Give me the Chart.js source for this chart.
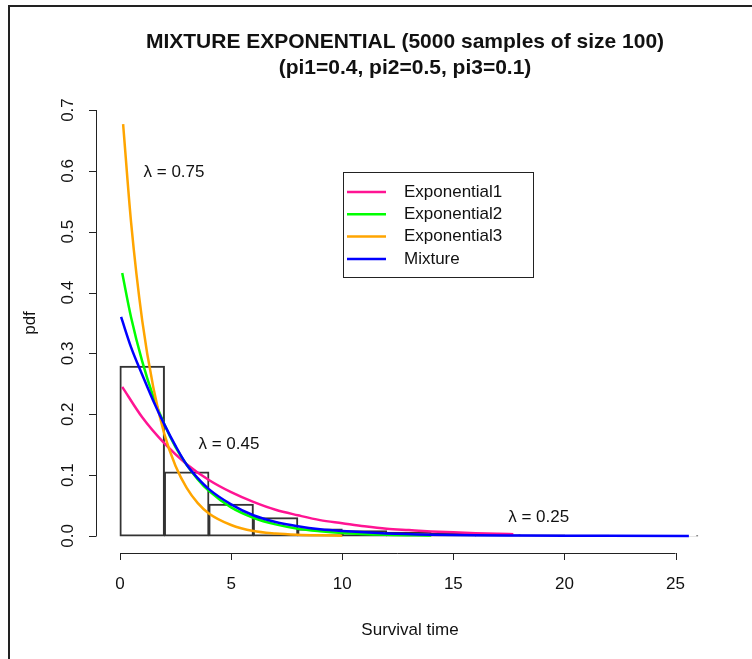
<!DOCTYPE html>
<html>
<head>
<meta charset="utf-8">
<script src="https://cdn.jsdelivr.net/npm/chart.js@4.4.1/dist/chart.umd.min.js"></script>
<style>
  body { margin: 0; background: #fff; }
  #frame { position: absolute; left: 8px; top: 5px; width: 760px; height: 700px;
           border-top: 2px solid #222; border-left: 2px solid #222; }
  #myChart { position: absolute; left: 0; top: 0; }
</style>
</head>
<body>
<div id="frame"></div>
<canvas id="myChart" width="752" height="659"></canvas>
<script>
// histogram (bin centers, density)
const binMids = [1, 3, 5, 7, 9, 11, 13, 15, 17, 19, 21, 23, 25];
const binDens = [0.279, 0.105, 0.052, 0.030, 0.0115, 0.0087, 0.006, 0.004, 0.002, 0.0015, 0.001, 0.0005, 0.0003];

// curves
const exp1X = [0.1, 1, 2, 3, 4, 5, 6, 7, 8, 9, 10, 11, 12, 13, 14, 15, 16, 17, 17.7];
const exp1Y = [0.245, 0.195, 0.152, 0.118, 0.092, 0.072, 0.056, 0.043, 0.034, 0.026, 0.021, 0.016, 0.012, 0.0097, 0.0075, 0.0059, 0.0046, 0.0036, 0.003];

const exp2X = [0.1, 0.5, 1, 1.5, 2, 2.5, 3, 3.5, 4, 5, 6, 7, 8, 9, 10, 12, 14];
const exp2Y = [0.432, 0.359, 0.287, 0.229, 0.183, 0.146, 0.117, 0.093, 0.074, 0.047, 0.030, 0.019, 0.012, 0.0079, 0.005, 0.002, 0.0008];

const exp3X = [0.14, 0.5, 1, 1.5, 2, 2.5, 3, 3.5, 4, 5, 6, 7, 8, 9, 10];
const exp3Y = [0.677, 0.515, 0.354, 0.244, 0.167, 0.115, 0.079, 0.054, 0.037, 0.018, 0.008, 0.004, 0.002, 0.001, 0.0004];

const mixX = [0.05, 0.5, 1, 1.5, 2, 2.5, 3, 3.5, 4, 5, 6, 7, 8, 9, 10, 12, 14, 16, 18, 20, 22, 25.6];
const mixY = [0.36, 0.31, 0.265, 0.222, 0.183, 0.148, 0.117, 0.095, 0.077, 0.052, 0.034, 0.023, 0.016, 0.011, 0.008, 0.004, 0.002, 0.001, 0.0006, 0.0003, 0.0002, 0.0001];

const xTicks = [0, 5, 10, 15, 20, 25];
const yTicks = [0.0, 0.1, 0.2, 0.3, 0.4, 0.5, 0.6, 0.7];
const legendNames = ['Exponential1', 'Exponential2', 'Exponential3', 'Mixture'];
const legendColors = ['#FF1493', '#00FF00', '#FFA500', '#0000FF'];
const lambdaLabels = ['0.75', '0.45', '0.25'];

function pts(xs, ys) {
  return xs.map((x, i) => ({x: x, y: ys[i]}));
}

function curve(label, xs, ys, color, order) {
  return {
    type: 'line', label: label, data: pts(xs, ys),
    borderColor: color, borderWidth: 2.5, pointRadius: 0,
    cubicInterpolationMode: 'monotone', fill: false, order: order
  };
}

const FONT = '"Liberation Sans", Arial, sans-serif';

const rStuff = {
  id: 'rStuff',
  afterDraw(chart) {
    const ctx = chart.ctx;
    const xs = chart.scales.x, ys = chart.scales.y;
    const a = chart.chartArea;
    const cx = 405;
    ctx.save();
    ctx.strokeStyle = '#222';
    ctx.fillStyle = '#111';
    ctx.lineWidth = 1;

    // y axis
    const yL = a.left;
    ctx.beginPath();
    ctx.moveTo(yL + 0.5, ys.getPixelForValue(0));
    ctx.lineTo(yL + 0.5, ys.getPixelForValue(0.7));
    yTicks.forEach(t => {
      const p = Math.round(ys.getPixelForValue(t)) + 0.5;
      ctx.moveTo(yL + 0.5, p);
      ctx.lineTo(yL - 7, p);
    });
    ctx.stroke();
    ctx.font = '17px ' + FONT;
    ctx.textAlign = 'center';
    ctx.textBaseline = 'middle';
    yTicks.forEach(t => {
      ctx.save();
      ctx.translate(68, ys.getPixelForValue(t));
      ctx.rotate(-Math.PI / 2);
      ctx.fillText(t.toFixed(1), 0, 0);
      ctx.restore();
    });

    // x axis
    const xB = a.bottom;
    ctx.beginPath();
    ctx.moveTo(xs.getPixelForValue(0), xB + 0.5);
    ctx.lineTo(xs.getPixelForValue(25), xB + 0.5);
    xTicks.forEach(t => {
      const p = Math.round(xs.getPixelForValue(t)) + 0.5;
      ctx.moveTo(p, xB);
      ctx.lineTo(p, xB + 7);
    });
    ctx.stroke();
    xTicks.forEach(t => {
      ctx.fillText(String(t), xs.getPixelForValue(t), 584);
    });

    // axis titles
    ctx.fillText('Survival time', 410, 630);
    ctx.save();
    ctx.translate(30, (a.top + a.bottom) / 2);
    ctx.rotate(-Math.PI / 2);
    ctx.fillText('pdf', 0, 0);
    ctx.restore();

    // title
    ctx.font = 'bold 21px ' + FONT;
    ctx.fillText('MIXTURE EXPONENTIAL (5000 samples of size 100)', cx, 42);
    ctx.fillText('(pi1=0.4, pi2=0.5, pi3=0.1)', cx, 68);

    // lambda labels
    ctx.font = '17px ' + FONT;
    const lamPos = [[2.43, 0.598], [4.9, 0.15], [18.84, 0.03]];
    lambdaLabels.forEach((s, i) => {
      ctx.fillText('\u03BB = ' + s, xs.getPixelForValue(lamPos[i][0]), ys.getPixelForValue(lamPos[i][1]));
    });

    // legend
    ctx.strokeStyle = '#222';
    ctx.lineWidth = 1;
    ctx.strokeRect(343.5, 172.5, 190, 105);
    ctx.textAlign = 'left';
    legendNames.forEach((n, i) => {
      const y = 192 + i * 22.3;
      ctx.strokeStyle = legendColors[i];
      ctx.lineWidth = 2.5;
      ctx.beginPath();
      ctx.moveTo(347, y);
      ctx.lineTo(386, y);
      ctx.stroke();
      ctx.fillText(n, 404, y);
    });
    ctx.restore();
  }
};

const config = {
  type: 'bar',
  data: {
    datasets: [
      curve('Mixture', mixX, mixY, legendColors[3], 1),
      curve('Exponential3', exp3X, exp3Y, legendColors[2], 2),
      curve('Exponential2', exp2X, exp2Y, legendColors[1], 3),
      curve('Exponential1', exp1X, exp1Y, legendColors[0], 4),
      {
        type: 'bar', label: 'hist', data: pts(binMids, binDens),
        backgroundColor: 'rgba(0,0,0,0)', borderColor: '#333', borderWidth: 1,
        borderSkipped: false, inflateAmount: 0.5,
        barPercentage: 1, categoryPercentage: 1, order: 5
      }
    ]
  },
  options: {
    responsive: false,
    animation: false,
    layout: { padding: { left: 96, right: 32, top: 93, bottom: 106 } },
    plugins: { legend: { display: false }, title: { display: false }, tooltip: { enabled: false } },
    scales: {
      x: { type: 'linear', min: -1.08, max: 27, offset: false, display: false },
      y: { type: 'linear', min: -0.028, max: 0.728, display: false }
    }
  },
  plugins: [rStuff]
};

const myChart = new Chart(document.getElementById('myChart').getContext('2d'), config);
</script>
</body>
</html>
